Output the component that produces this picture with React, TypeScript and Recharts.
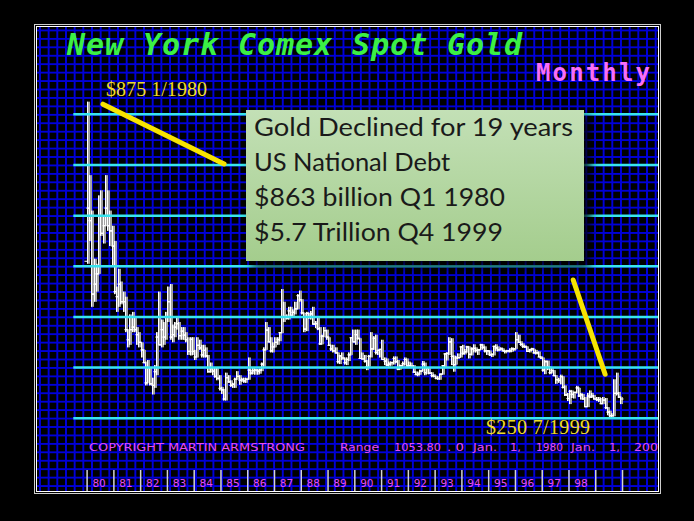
import React from 'react';
import { ComposedChart, Bar, XAxis, YAxis, ReferenceLine } from 'recharts';

// monthly bars, Jan 1980 .. Dec 1999 (12 values per row)
const opens = [
  560, 665, 640, 495, 515, 535, 650, 615, 630, 665, 630, 620,
  590, 500, 490, 515, 480, 480, 425, 405, 425, 430, 425, 415,
  400, 385, 360, 320, 350, 318, 315, 342, 410, 395, 425, 410,
  450, 480, 410, 415, 430, 437, 413, 422, 414, 405, 382, 406,
  382, 371, 394, 389, 375, 384, 373, 342, 348, 343, 333, 329,
  309, 306, 288, 330, 322, 315, 317, 327, 333, 325, 326, 324,
  327, 345, 339, 344, 345, 343, 345, 357, 385, 424, 401, 383,
  391, 400, 405, 419, 450, 451, 447, 462, 453, 459, 466, 492,
  484, 458, 426, 457, 451, 456, 436, 437, 427, 397, 412, 423,
  410, 394, 387, 383, 379, 362, 373, 369, 360, 366, 375, 409,
  401, 415, 408, 368, 367, 363, 352, 372, 387, 408, 380, 384,
  386, 366, 363, 355, 357, 360, 368, 362, 347, 354, 358, 366,
  353, 354, 353, 341, 336, 337, 343, 357, 340, 349, 339, 334,
  333, 329, 328, 337, 354, 377, 378, 401, 372, 356, 369, 370,
  391, 378, 381, 391, 376, 387, 388, 384, 385, 395, 390, 383,
  383, 375, 376, 392, 389, 385, 387, 383, 382, 383, 383, 387,
  387, 405, 400, 396, 392, 391, 382, 385, 387, 379, 379, 371,
  369, 345, 362, 351, 340, 344, 334, 326, 325, 332, 311, 296,
  289, 303, 297, 301, 310, 294, 296, 288, 273, 294, 292, 294,
  288, 287, 287, 279, 286, 271, 262, 255, 255, 299, 299, 292,
];

const highs = [
  875, 730, 660, 565, 555, 690, 700, 650, 730, 700, 660, 630,
  600, 510, 545, 520, 500, 490, 425, 455, 460, 450, 430, 420,
  400, 385, 362, 365, 350, 330, 355, 420, 500, 445, 440, 460,
  510, 515, 435, 440, 450, 440, 430, 430, 420, 410, 410, 410,
  385, 410, 405, 395, 395, 390, 375, 360, 350, 350, 350, 335,
  312, 308, 340, 335, 325, 320, 330, 343, 335, 330, 330, 330,
  370, 346, 350, 348, 347, 348, 360, 390, 440, 430, 410, 400,
  410, 410, 420, 505, 480, 455, 470, 470, 465, 480, 495, 502,
  485, 458, 460, 458, 462, 470, 442, 450, 430, 415, 430, 425,
  410, 395, 395, 390, 380, 375, 380, 370, 370, 380, 410, 425,
  425, 425, 408, 380, 375, 365, 375, 420, 412, 415, 385, 386,
  405, 370, 368, 362, 362, 372, 372, 365, 356, 362, 370, 368,
  362, 360, 355, 342, 342, 346, 363, 360, 351, 349, 341, 337,
  334, 333, 338, 355, 378, 380, 410, 408, 374, 373, 378, 392,
  395, 387, 393, 392, 390, 396, 390, 387, 397, 396, 392, 384,
  384, 378, 393, 396, 392, 390, 388, 385, 385, 388, 390, 388,
  420, 415, 402, 398, 394, 392, 387, 389, 387, 385, 382, 373,
  370, 365, 364, 352, 350, 345, 335, 330, 336, 333, 315, 300,
  306, 305, 302, 314, 310, 300, 298, 292, 300, 305, 300, 296,
  292, 292, 290, 292, 290, 272, 265, 260, 327, 340, 302, 292,
];

const lows = [
  555, 600, 470, 480, 500, 535, 610, 595, 630, 620, 590, 550,
  495, 460, 470, 475, 460, 420, 390, 395, 420, 420, 395, 390,
  370, 360, 315, 320, 315, 297, 310, 335, 395, 390, 395, 405,
  440, 405, 400, 410, 425, 405, 405, 405, 400, 375, 374, 375,
  365, 370, 385, 370, 370, 370, 340, 340, 335, 330, 325, 305,
  298, 285, 285, 320, 312, 310, 310, 326, 316, 322, 320, 320,
  326, 336, 337, 336, 336, 338, 343, 352, 385, 400, 380, 380,
  390, 395, 402, 418, 440, 445, 445, 450, 450, 455, 465, 480,
  455, 420, 422, 446, 445, 435, 428, 424, 395, 396, 410, 405,
  394, 383, 380, 378, 358, 357, 365, 356, 355, 363, 375, 401,
  395, 405, 368, 366, 360, 345, 352, 370, 385, 376, 375, 370,
  366, 355, 353, 352, 354, 356, 359, 345, 346, 352, 355, 352,
  350, 350, 340, 336, 333, 336, 342, 335, 337, 337, 331, 331,
  327, 326, 326, 336, 350, 364, 375, 355, 342, 356, 367, 370,
  375, 376, 380, 368, 374, 380, 380, 375, 385, 386, 380, 375,
  373, 371, 374, 383, 382, 384, 383, 378, 380, 380, 381, 383,
  387, 399, 393, 389, 389, 381, 380, 383, 378, 376, 371, 367,
  342, 337, 345, 337, 339, 334, 318, 320, 317, 309, 294, 284,
  278, 290, 289, 299, 292, 287, 287, 272, 272, 290, 290, 287,
  284, 282, 278, 278, 268, 256, 252, 252, 254, 295, 290, 278,
];

const closes = [
  665, 640, 495, 515, 535, 650, 615, 630, 665, 630, 620, 590,
  500, 490, 515, 480, 480, 425, 405, 425, 430, 425, 415, 400,
  385, 360, 320, 350, 318, 315, 342, 410, 395, 425, 410, 450,
  480, 410, 415, 430, 437, 413, 422, 414, 405, 382, 406, 382,
  371, 394, 389, 375, 384, 373, 342, 348, 343, 333, 329, 309,
  306, 288, 330, 322, 315, 317, 327, 333, 325, 326, 324, 327,
  345, 339, 344, 345, 343, 345, 357, 385, 424, 401, 383, 391,
  400, 405, 419, 450, 451, 447, 462, 453, 459, 466, 492, 484,
  458, 426, 457, 451, 456, 436, 437, 427, 397, 412, 423, 410,
  394, 387, 383, 379, 362, 373, 369, 360, 366, 375, 409, 401,
  415, 408, 368, 367, 363, 352, 372, 387, 408, 380, 384, 386,
  366, 363, 355, 357, 360, 368, 362, 347, 354, 358, 366, 353,
  354, 353, 341, 336, 337, 343, 357, 340, 349, 339, 334, 333,
  329, 328, 337, 354, 377, 378, 401, 372, 356, 369, 370, 391,
  378, 381, 391, 376, 387, 388, 384, 385, 395, 390, 383, 383,
  375, 376, 392, 389, 385, 387, 383, 382, 383, 383, 387, 387,
  405, 400, 396, 392, 391, 382, 385, 387, 379, 379, 371, 369,
  345, 362, 351, 340, 344, 334, 326, 325, 332, 311, 296, 289,
  303, 297, 301, 310, 294, 296, 288, 273, 294, 292, 294, 288,
  287, 287, 279, 286, 271, 262, 255, 255, 299, 299, 292, 288,
];

// year boundaries (month index) and the labels in the bottom strip
const yearTicks = [0, 12, 24, 36, 48, 60, 72, 84, 96, 108, 120, 132, 144, 156, 168, 180, 192, 204, 216, 228, 240];
const yearLabels = ['80', '81', '82', '83', '84', '85', '86', '87', '88', '89', '90', '91', '92', '93', '94', '95', '96', '97', '98'];
const priceTicks = [250, 350, 450, 550, 650, 750, 850];

// yellow annotation strokes (month index, price)
const peakStroke = [{ x: 7.1, y: 870 }, { x: 61.4, y: 752 }];
const lowStroke = [{ x: 217.9, y: 523 }, { x: 232.2, y: 337 }];

const boxLines = ['Gold Declined for 19 years', 'US National Debt', '$863 billion Q1 1980', '$5.7 Trillion Q4 1999'];

const footerParts = ['COPYRIGHT MARTIN ARMSTRONG', 'Range', '1053.80', '. 0', 'Jan.', '1,', '1980', 'Jan.', '1,', '2000'];

const rows = closes.map((close, i) => ({
  m: i,
  open: opens[i],
  high: highs[i],
  low: lows[i],
  close,
  range: [lows[i], highs[i]],
}));

const CYAN = '#38e4ee';
const MAGENTA = '#e84cf2';
const YELLOW = '#f7e400';

// x start and width of each footer piece, as seen in the picture
const footerX = [89, 340, 394, 447, 473, 510, 536, 571, 609, 634];
const footerW = [216, 39, 47, 17, 24, 11, 27, 24, 11, 32];
// rendered widths of the box lines (line 2 keeps its natural width)
const boxLineW = [319, undefined, 251, 249];

const OhlcShape = (props: any) => {
  const { x, y, width, height, payload } = props;
  if (x == null || y == null) return null;
  const top = Math.min(y, y + height);
  const h = Math.abs(height);
  const cx = Math.round(x + width / 2) + 0.5;
  const span = payload.high - payload.low;
  const k = span > 0 ? h / span : 0;
  const yo = top + (payload.high - payload.open) * k;
  const yc = top + (payload.high - payload.close) * k;
  return (
    <g>
      <rect x={cx} y={top} width={2.5} height={Math.max(h, 1)} fill="#a4a4a4" />
      <line x1={cx} x2={cx} y1={top} y2={top + Math.max(h, 1)} stroke="#fff" strokeWidth={1} />
      <line x1={cx - 3} x2={cx} y1={yo} y2={yo} stroke="#fff" strokeWidth={1.2} />
      <line x1={cx} x2={cx + 3} y1={yc} y2={yc} stroke="#fff" strokeWidth={1.2} />
    </g>
  );
};

const PriceTick = (props: any) => {
  const { y, payload } = props;
  if (payload.value === 250) return <g />;
  return (
    <text x={649} y={y + 11.5} textAnchor="end" fill={CYAN} fontFamily="DejaVu Sans Mono" fontWeight="bold" fontSize={16}>
      {payload.value}
    </text>
  );
};

const YearTick = (props: any) => {
  const { x, payload } = props;
  const label = yearLabels[Math.round(payload.value / 12)];
  return (
    <g>
      <line x1={x} x2={x} y1={470} y2={491} stroke="#d4d4d4" strokeWidth={1.5} />
      {label && (
        <text x={x + 12} y={487} textAnchor="middle" fill={MAGENTA} fontFamily="DejaVu Sans" fontSize={10.5}>
          {label}
        </text>
      )}
    </g>
  );
};

const App = () => {
  return (
    <div style={{ position: 'relative', width: 694, height: 521, background: '#000', overflow: 'hidden' }}>
      <style>{'body{margin:0;background:#000}'}</style>
      {/* frame + blue grid */}
      <div style={{ position: 'absolute', left: 34, top: 24, width: 627, height: 470, boxSizing: 'border-box', border: '1px solid #cfcfcf' }} />
      <div
        style={{
          position: 'absolute', left: 36, top: 26, width: 623, height: 466, boxSizing: 'border-box',
          border: '1px solid #fff', backgroundColor: '#000',
          backgroundImage: 'linear-gradient(90deg, #0000d8 1.6px, transparent 1.6px), linear-gradient(180deg, #0000d8 1.6px, transparent 1.6px)',
          backgroundSize: '8.68px 100%, 100% 8.45px',
          backgroundPosition: '2px 0, 0 2.5px',
        }}
      />
      <div style={{ position: 'absolute', left: 0, top: 0 }}>
        <ComposedChart width={694} height={521} data={rows} margin={{ top: 89, right: 36, bottom: 47.4, left: 73.3 }}>
          <XAxis
            dataKey="m" type="number" domain={[-6.19, 255.9]} allowDataOverflow
            ticks={yearTicks} interval={0} height={30}
            axisLine={false} tickLine={false} tick={<YearTick />}
          />
          <YAxis
            type="number" orientation="right" mirror width={0} domain={[200, 900]} allowDataOverflow
            ticks={priceTicks} axisLine={false} tickLine={false} tick={<PriceTick />}
          />
          {priceTicks.map((t) => (
            <ReferenceLine key={t} y={t} stroke={CYAN} strokeWidth={2.5} />
          ))}
          <Bar dataKey="range" barSize={3} shape={<OhlcShape />} isAnimationActive={false} />
          <ReferenceLine segment={peakStroke} stroke={YELLOW} strokeWidth={5} strokeLinecap="round" />
          <ReferenceLine segment={lowStroke} stroke={YELLOW} strokeWidth={5} strokeLinecap="round" />
        </ComposedChart>
      </div>
      <svg width={694} height={521} style={{ position: 'absolute', left: 0, top: 0, pointerEvents: 'none' }}>
        <defs>
          <clipPath id="panelClip">
            <rect x={37} y={27} width={621} height={464} />
          </clipPath>
        </defs>
        <text x={67} y={55} fill="#3cf044" fontFamily="DejaVu Sans Mono" fontWeight="bold" fontStyle="italic" fontSize={30} textLength={455} lengthAdjust="spacing">
          New York Comex Spot Gold
        </text>
        <text x={536} y={81} fill="#f86ef8" fontFamily="DejaVu Sans Mono" fontWeight="bold" fontSize={24} textLength={114} lengthAdjust="spacing">
          Monthly
        </text>
        <text x={106} y={96} fill="#f0dc28" fontFamily="Liberation Serif" fontSize={20} textLength={101} lengthAdjust="spacing">
          $875 1/1980
        </text>
        <text x={486} y={434} fill="#f0dc28" fontFamily="Liberation Serif" fontSize={20} textLength={104} lengthAdjust="spacing">
          $250 7/1999
        </text>
        <g clipPath="url(#panelClip)" fill={MAGENTA} fontFamily="DejaVu Sans" fontSize={11}>
          {footerParts.map((part, i) => (
            <text key={i} x={footerX[i]} y={450.7} textLength={footerW[i]} lengthAdjust="spacingAndGlyphs">
              {part}
            </text>
          ))}
        </g>
      </svg>
      <div
        style={{
          position: 'absolute', left: 246, top: 110, width: 338, height: 151,
          background: 'linear-gradient(180deg, #c3e0b6 0%, #a4cd8d 100%)',
          boxShadow: '6px 6px 9px rgba(0,0,0,0.85)',
        }}
      >
        <svg width={338} height={151}>
          {boxLines.map((line, i) => (
            <text
              key={line} x={8} y={26 + i * 35} fill="#1a1a1a" fontFamily="Lato" fontSize={25.5}
              textLength={boxLineW[i]} lengthAdjust={boxLineW[i] ? 'spacingAndGlyphs' : undefined}
            >
              {line}
            </text>
          ))}
        </svg>
      </div>
    </div>
  );
};

export default App;
